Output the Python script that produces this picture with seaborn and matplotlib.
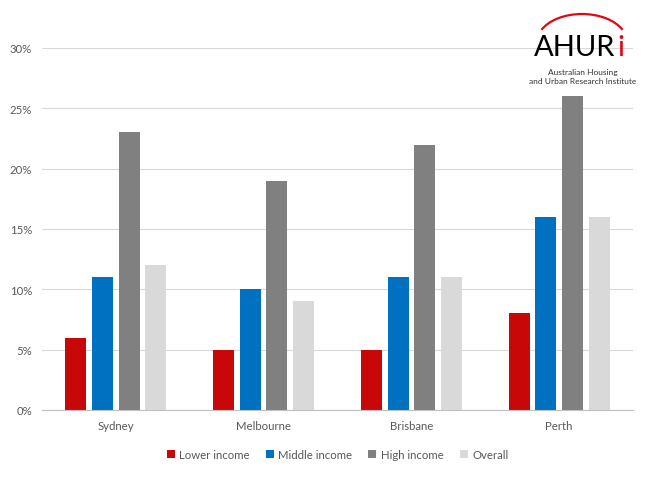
import matplotlib
matplotlib.use("Agg")
import matplotlib.pyplot as plt
from matplotlib.patches import Arc
import seaborn as sns
import pandas as pd

cities = ["Sydney", "Melbourne", "Brisbane", "Perth"]
groups = ["Lower income", "Middle income", "High income", "Overall"]
lower = [6, 5, 5, 8]
middle = [11, 10, 11, 16]
high = [23, 19, 22, 26]
overall = [12, 9, 11, 16]
colors = ["#C80808", "#0070C0", "#808080", "#D9D9D9"]

rows = []
for g, vals in zip(groups, [lower, middle, high, overall]):
    for c, v in zip(cities, vals):
        rows.append({"city": c, "group": g, "value": v})
df = pd.DataFrame(rows)

sns.set_style("white")
plt.rcParams["font.family"] = ["Lato", "DejaVu Sans"]

W, H = 650, 481
fig = plt.figure(figsize=(6.5, 4.81), dpi=100)
ax = fig.add_axes([42 / W, 1 - 411 / H, 591 / W, 362 / H])

sns.barplot(data=df, x="city", y="value", hue="group", order=cities,
            hue_order=groups, palette=colors, width=0.722, gap=0.21,
            saturation=1, linewidth=0, ax=ax)

ax.set_ylim(0, 30)
ax.set_xlim(-0.5, 3.5)
ax.set_yticks(range(0, 31, 5))
ax.set_yticklabels([f"{t}%" for t in range(0, 31, 5)])
ax.yaxis.grid(True, color="#D9D9D9", linewidth=0.8)
ax.set_axisbelow(True)
for s in ["top", "right", "left"]:
    ax.spines[s].set_visible(False)
ax.spines["bottom"].set_color("#BFBFBF")
ax.tick_params(axis="both", length=0, labelsize=8.2, colors="#595959", pad=7)
ax.set_xlabel("")
ax.set_ylabel("")

leg = ax.legend(loc="center", bbox_to_anchor=(0.5, -0.122), ncol=4,
                frameon=False, fontsize=8.2, handlelength=0.7, handleheight=0.7,
                handletextpad=0.4, columnspacing=1.4)
for t in leg.get_texts():
    t.set_color("#595959")

# logo (pixel positions converted to figure fraction)
fig.text(615 / W, 1 - 48 / H, "AHUR", fontsize=21, color="black", ha="right", va="center")
fig.text(617 / W, 1 - 48 / H, "i", fontsize=21, color="#E30613", ha="left", va="center")
fig.text(583 / W, 1 - 72 / H, "Australian Housing", fontsize=6, color="#333333",
         ha="center", va="center")
fig.text(583 / W, 1 - 82 / H, "and Urban Research Institute", fontsize=6, color="#333333",
         ha="center", va="center")
fig.patches.append(Arc((582 / W, 1 - 43 / H), 90 / W, 56 / H, theta1=22, theta2=158,
                       color="#E30613", lw=1.6, transform=fig.transFigure, figure=fig))

fig.savefig("out.png", dpi=100)
